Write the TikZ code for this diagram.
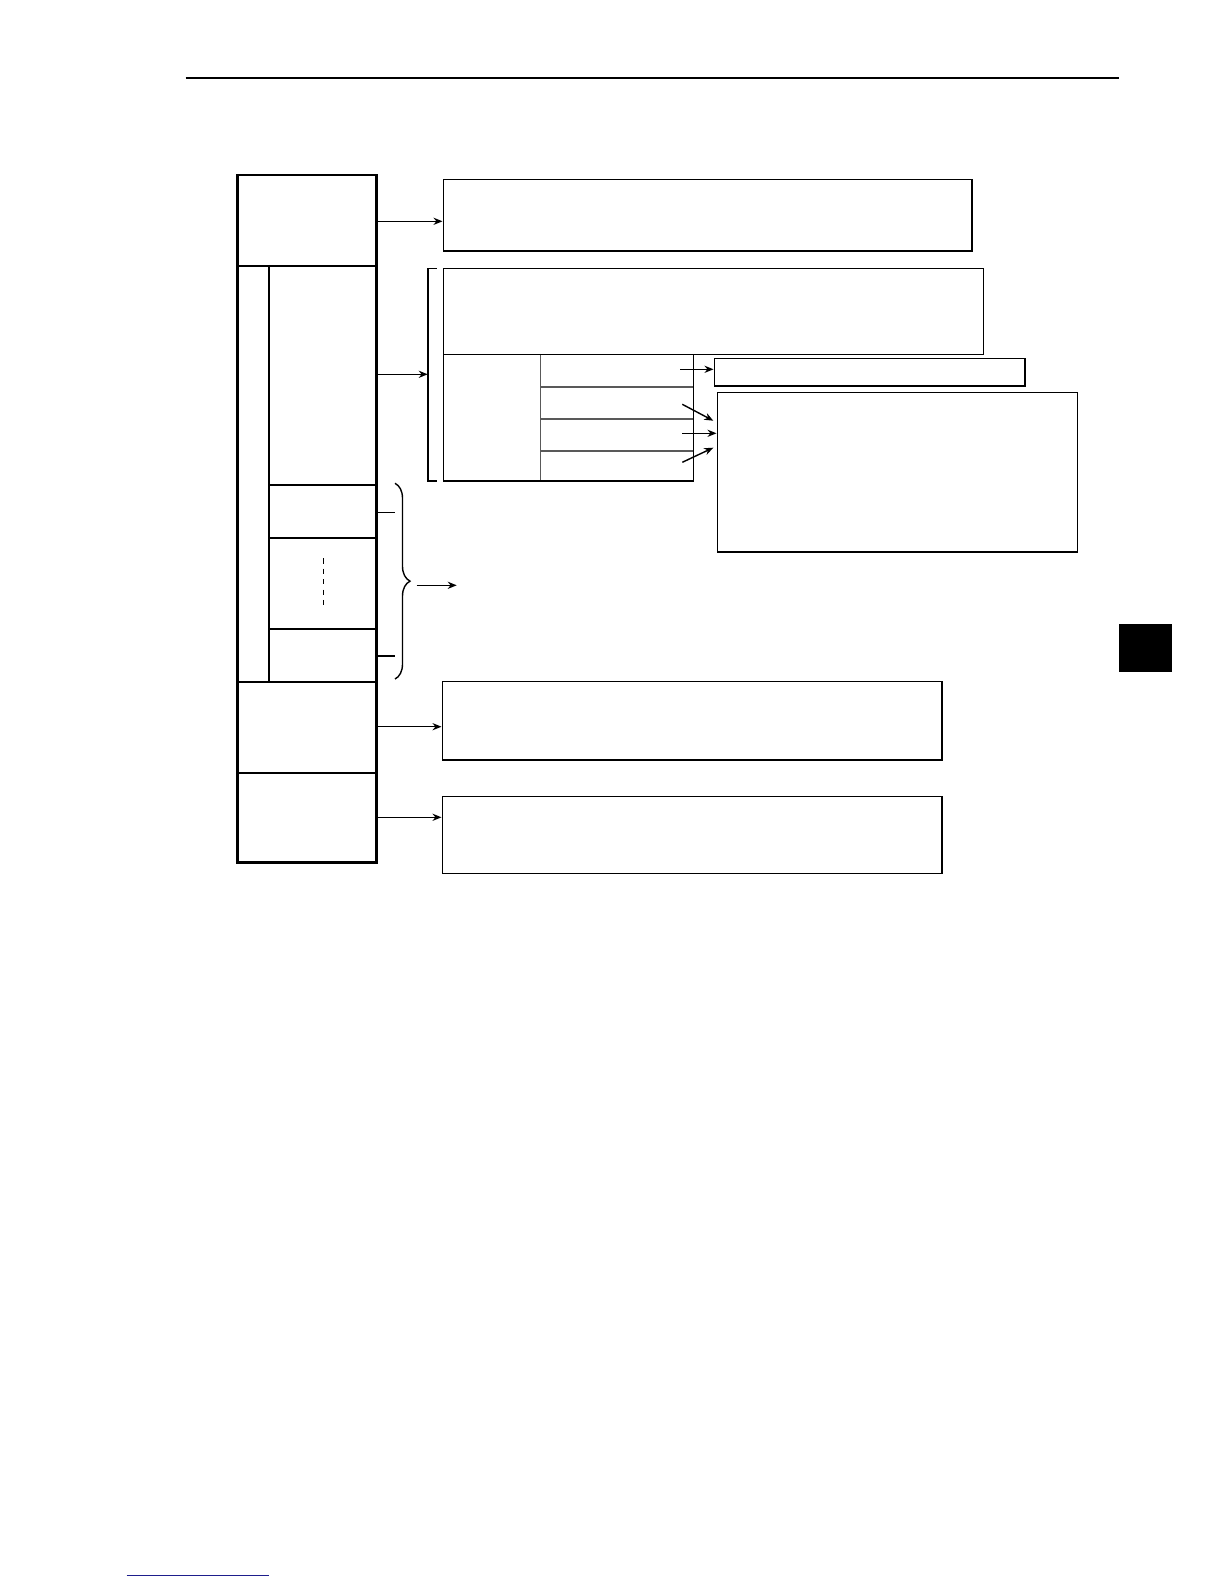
\documentclass[tikz,border=0pt]{standalone}
\usetikzlibrary{fit,arrows.meta,decorations.pathreplacing}
\begin{document}
\begin{tikzpicture}[x=0.5pt,y=-0.5pt,
  box/.style={draw, line width=0.8pt, inner sep=0pt, rectangle},
  thickbox/.style={draw, line width=1.4pt, inner sep=0pt, rectangle},
  cell/.style={inner sep=0pt, rectangle},
  ln/.style={line width=0.8pt},
  grayln/.style={line width=0.8pt, draw=black!65},
  arr/.style={line width=0.7pt, -{Stealth[length=4.5pt,width=3.6pt]}}]
\useasboundingbox (0,0) rectangle (1224,1584);
% header rule
\coordinate (hl) at (185.7,78.3);
\coordinate (hr) at (1119,78.3);
\draw[line width=0.9pt] (hl) -- (hr);
% tab marker
\node[fill=black, inner sep=0pt, fit={(1119,624)(1172,672)}] (tab) {};
% footer link line
\coordinate (fl) at (126.7,1575.3);
\coordinate (fr) at (269,1575.3);
\draw[line width=0.8pt, draw={rgb,255:red,30;green,30;blue,140}] (fl) -- (fr);

% main column sections
\node[cell, fit={(237.7,175)(376.7,265.3)}] (s1) {};
\node[cell, fit={(237.7,265.3)(376.7,681.3)}] (grp) {};
\node[cell, fit={(269.3,265.3)(376.7,484.3)}] (g1) {};
\node[cell, fit={(269.3,484.3)(376.7,537.3)}] (g2) {};
\node[cell, fit={(269.3,537.3)(376.7,628.3)}] (g3) {};
\node[cell, fit={(269.3,628.3)(376.7,681.3)}] (g4) {};
\node[cell, fit={(237.7,681.3)(376.7,772.3)}] (s5) {};
\node[cell, fit={(237.7,772.3)(376.7,862.7)}] (s6) {};
\draw[ln] (s1.south west) -- (s1.south east);
\draw[ln] (g1.north west) -- (g4.south west);
\draw[ln] (g1.south west) -- (g1.south east);
\draw[ln] (g2.south west) -- (g2.south east);
\draw[ln] (g3.south west) -- (g3.south east);
\draw[ln] (grp.south west) -- (grp.south east);
\draw[ln] (s5.south west) -- (s5.south east);
\node[thickbox, fit={(237.7,175)(376.7,862.7)}] (main) {};
\coordinate (d1) at (323.3,558.3);
\coordinate (d2) at (323.3,609.3);
\draw[line width=0.8pt, dash pattern=on 2.6pt off 2.6pt] (d1) -- (d2);

% right boxes
\node[box, fit={(443.3,179.3)(971.7,251)}] (b1) {};
\node[box, fit={(443.3,268.3)(983.3,354.3)}] (b2) {};
\node[cell, fit={(443.3,354.3)(541,481)}] (tl) {};
\node[cell, fit={(541,354.3)(693.3,386.7)}] (r1) {};
\node[cell, fit={(541,386.7)(693.3,418.7)}] (r2) {};
\node[cell, fit={(541,418.7)(693.3,450.7)}] (r3) {};
\node[cell, fit={(541,450.7)(693.3,481)}] (r4) {};
\draw[grayln] (r1.north west) -- (r4.south west);
\draw[grayln] (r1.south west) -- (r1.south east);
\draw[grayln] (r2.south west) -- (r2.south east);
\draw[grayln] (r3.south west) -- (r3.south east);
\node[box, fit={(443.3,354.3)(693.3,481)}] (tbl) {};
\node[box, fit={(714.3,358.3)(1024.7,386)}] (b3) {};
\node[box, fit={(717.3,392.3)(1077.3,552)}] (b4) {};
\node[box, fit={(442.3,681.3)(941.7,760)}] (b5) {};
\node[box, fit={(442.3,796.3)(941.7,873.3)}] (b6) {};

% bracket for b2 group
\coordinate (k1) at (436.7,268.3);
\coordinate (k2) at (427.7,268.3);
\coordinate (k3) at (427.7,481);
\coordinate (k4) at (436.7,481);
\draw[ln] (k1) -- (k2) -- (k3) -- (k4);

% brace group
\coordinate (t1) at (376.7,512.3);
\coordinate (t1e) at (395,512.3);
\coordinate (t2) at (376.7,656);
\coordinate (t2e) at (395,656);
\draw[ln] (t1) -- (t1e);
\draw[ln] (t2) -- (t2e);
\coordinate (bt) at (395,483.3);
\coordinate (bb) at (395,679);
\draw[line width=0.7pt, decorate, decoration={brace, amplitude=7.5pt}] (bt) -- (bb);
\coordinate (ba1) at (416.7,585.3);
\coordinate (ba2) at (456.7,585.3);
\draw[arr] (ba1) -- (ba2);

% arrows from main column
\draw[arr] (main.east |- 0,221.3) -- (b1.west |- 0,221.3);
\draw[arr] (main.east |- 0,374.3) -- (k2 |- 0,374.3);
\draw[arr] (main.east |- 0,726.7) -- (b5.west |- 0,726.7);
\draw[arr] (main.east |- 0,817.3) -- (b6.west |- 0,817.3);

% arrows from table rows
\coordinate (a1) at (680,369.3);
\draw[arr] (a1) -- (b3.west |- a1);
\coordinate (a2) at (682.3,404.3);
\coordinate (a2e) at (713.3,420.7);
\draw[arr] (a2) -- (a2e);
\coordinate (a3) at (682,433.3);
\draw[arr] (a3) -- (b4.west |- a3);
\coordinate (a4) at (682.3,462.3);
\coordinate (a4e) at (713.3,447.7);
\draw[arr] (a4) -- (a4e);
\end{tikzpicture}
\end{document}
